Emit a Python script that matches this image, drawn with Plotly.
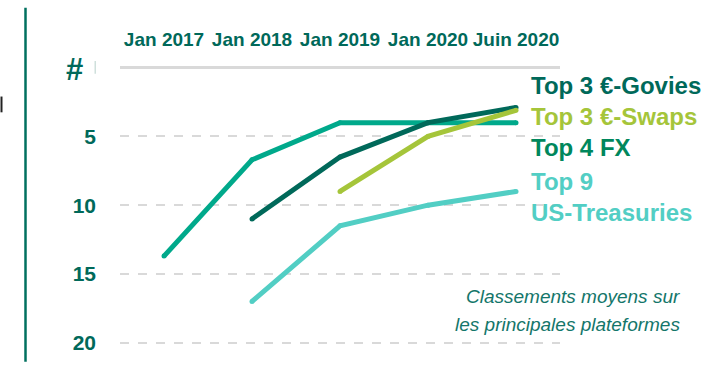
import plotly.graph_objects as go

# Average platform rankings (lower is better), per period
periods = ["Jan 2017", "Jan 2018", "Jan 2019", "Jan 2020", "Juin 2020"]
fx_rank = [13.7, 6.7, 4.0, 4.0, 4.0]
govies_rank = [None, 11.0, 6.5, 4.0, 2.9]
swaps_rank = [None, None, 9.0, 5.0, 3.1]
ust_rank = [None, 17.0, 11.5, 10.0, 9.0]
rank_ticks = [5, 10, 15, 20]

W, H = 722, 366
ML, MR, MT, MB = 120, 162, 64, 15
PW, PH = W - ML - MR, H - MT - MB

DARK = "#00695a"
FX_LINE = "#00a98b"
FX_TEXT = "#00875c"
LIME = "#a5c53a"
TURQ = "#52cec4"
FONT = "Liberation Sans"


def px(x, y):
    """Pixel position on the page -> paper coordinates."""
    return (x - ML) / PW, (H - MB - y) / PH


fig = go.Figure()
series = [
    (fx_rank, FX_LINE),
    (govies_rank, DARK),
    (swaps_rank, LIME),
    (ust_rank, TURQ),
]
for values, color in series:
    fig.add_trace(go.Scatter(
        x=periods, y=values, mode="lines+markers",
        line=dict(color=color, width=5),
        marker=dict(color=color, size=5, line=dict(width=0)),
        connectgaps=False, hoverinfo="skip", cliponaxis=False,
    ))

# Series labels on the right
labels = [
    ("Top 3 €-Govies", DARK, 86),
    ("Top 3 €-Swaps", LIME, 117),
    ("Top 4 FX", FX_TEXT, 149),
    ("Top 9", TURQ, 183),
    ("US-Treasuries", TURQ, 215),
]
for text, color, ypix in labels:
    ax, ay = px(529, ypix)
    fig.add_annotation(
        text=text, x=ax, y=ay, xref="paper", yref="paper",
        xanchor="left", yanchor="middle", showarrow=False,
        font=dict(family=FONT, size=24, color=color, weight="bold"),
    )

# Footnote
for text, ypix in [("Classements moyens sur", 300), ("les principales plateformes", 328)]:
    ax, ay = px(682, ypix)
    fig.add_annotation(
        text=text, x=ax, y=ay, xref="paper", yref="paper",
        xanchor="right", yanchor="middle", showarrow=False,
        font=dict(family=FONT, size=19, color="#14766a", style="italic"),
    )

# Axis title "#"
ax, ay = px(74, 70)
fig.add_annotation(
    text="#", x=ax, y=ay, xref="paper", yref="paper",
    xanchor="center", yanchor="middle", showarrow=False,
    font=dict(family=FONT, size=31, color=DARK, weight="bold"),
)

# Decorative left rule and small fragments at the page edge
x0, y0 = px(25.5, 7)
x1, y1 = px(25.5, 366)
fig.add_shape(type="line", x0=x0, y0=y0, x1=x1, y1=y1, xref="paper", yref="paper",
              line=dict(color="#00705f", width=2.5))
x0, y0 = px(1.5, 97)
x1, y1 = px(1.5, 113)
fig.add_shape(type="line", x0=x0, y0=y0, x1=x1, y1=y1, xref="paper", yref="paper",
              line=dict(color="#222222", width=2))
x0, y0 = px(94.5, 61)
x1, y1 = px(96, 74)
fig.add_shape(type="rect", x0=x0, y0=y0, x1=x1, y1=y1, xref="paper", yref="paper",
              line=dict(width=0), fillcolor="#cfe0dc")

fig.update_xaxes(
    type="category", categoryorder="array", categoryarray=periods,
    range=[-0.5, 4.5], side="top", showgrid=False, zeroline=False,
    showline=False, ticks="", ticklabelstandoff=13,
    tickfont=dict(family=FONT, size=19, color=DARK, weight="bold"),
    fixedrange=True,
)
fig.update_yaxes(
    range=[20.31, -0.265], tickvals=rank_ticks, ticks="",
    showgrid=True, gridcolor="#d9d9d9", gridwidth=2, griddash="dash",
    zeroline=True, zerolinecolor="#d9d9d9", zerolinewidth=2.5,
    showline=False, ticklabelstandoff=23,
    tickfont=dict(family=FONT, size=21, color=DARK, weight="bold"),
    fixedrange=True,
)
fig.update_layout(
    width=W, height=H, showlegend=False,
    margin=dict(l=ML, r=MR, t=MT, b=MB, pad=0),
    plot_bgcolor="white", paper_bgcolor="white",
)

fig.write_html("out.html", config={"displayModeBar": False})
